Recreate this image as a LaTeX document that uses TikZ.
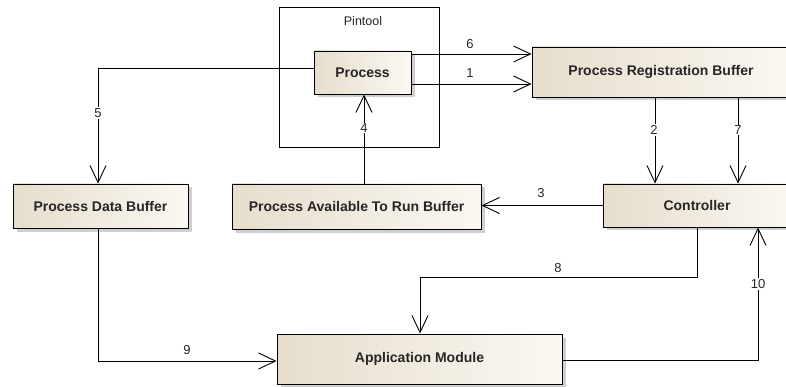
\documentclass[tikz,border=0pt]{standalone}
\usepackage{fontspec}
\setmainfont{Liberation Sans}
\usetikzlibrary{arrows.meta,shadows,calc}

\definecolor{boxleft}{RGB}{230,221,204}
\definecolor{boxright}{RGB}{251,248,242}
\definecolor{shadowgray}{RGB}{160,160,160}

\tikzset{
  block/.style={draw=black, line width=0.9pt, rectangle,
    left color=boxleft, right color=boxright,
    drop shadow={shadow xshift=3.5pt, shadow yshift=-3.5pt, fill=shadowgray, opacity=0.5},
    font=\fontsize{14}{16}\selectfont\bfseries, text=black!85},
  frame/.style={draw=black, line width=0.8pt, fill=white},
  flow/.style={draw=black, line width=0.9pt, -{Straight Barb[length=17pt,width=16pt,line width=0.9pt]}},
  num/.style={font=\fontsize{13}{15}\selectfont, text=black!85, fill=white, inner sep=1pt}
}

\begin{document}
\begin{tikzpicture}[x=1pt,y=-1pt]
  \useasboundingbox (0,0) rectangle (786,387);
  \clip (0,0) rectangle (786,387);
  \fill[white] (0,0) rectangle (786,387);

  % Pintool frame with its process
  \node[frame, minimum width=160pt, minimum height=140pt] (pintool) at (359,77) {};
  \node[font=\fontsize{12.5}{14}\selectfont, text=black!85] (pintoollabel) at (363,21) {Pintool};
  \node[block, minimum width=97pt, minimum height=43pt] (process) at (362.5,72.5) {Process};

  % buffers and modules
  \node[block, minimum width=258pt, minimum height=50pt] (prb) at (661,72) {Process Registration Buffer};
  \node[block, minimum width=188pt, minimum height=43pt] (ctrl) at (697,205.5) {Controller};
  \node[block, minimum width=249pt, minimum height=45pt] (patrb) at (356.5,206.5) {Process Available To Run Buffer};
  \node[block, minimum width=175pt, minimum height=44pt] (pdb) at (100.5,206) {Process Data Buffer};
  \node[block, minimum width=285pt, minimum height=50pt] (am) at (419.5,359) {Application Module};

  % connectors
  \draw[flow] ([yshift=18.5pt]process.east) -- ([yshift=18.5pt]process.east -| prb.west);
  \draw[flow] ([yshift=-11.5pt]process.east) -- ([yshift=-11.5pt]process.east -| prb.west);
  \draw[flow] ([xshift=-42pt]ctrl.north |- prb.south) -- ([xshift=-42pt]ctrl.north);
  \draw[flow] ([xshift=41pt]ctrl.north |- prb.south) -- ([xshift=41pt]ctrl.north);
  \draw[flow] (ctrl.west) -- (ctrl.west -| patrb.east);
  \draw[flow] ([xshift=1.5pt]process.south |- patrb.north) -- ([xshift=1.5pt]process.south);
  \draw[flow] ([yshift=4.5pt]process.west) -| ([xshift=-2.5pt]pdb.north);
  \draw[flow] (ctrl.south) |- ($(am.north)+(0.5,-56)$) -- ([xshift=0.5pt]am.north);
  \draw[flow] ([xshift=-2.5pt]pdb.south) |- ([yshift=-2pt]am.west);
  \draw[flow] ([yshift=-1pt]am.east) -| ([xshift=61pt]ctrl.south);

  % step numbers
  \node[num] (n6) at (470,44) {6};
  \node[num] (n1) at (470,73) {1};
  \node[num] (n5) at (98,113) {5};
  \node[num] (n4) at (364,128) {4};
  \node[num] (n2) at (654,130) {2};
  \node[num] (n7) at (738,130) {7};
  \node[num] (n3) at (541,193) {3};
  \node[num] (n8) at (558,268) {8};
  \node[num] (n10) at (758,284) {10};
  \node[num] (n9) at (187,350) {9};
\end{tikzpicture}
\end{document}
